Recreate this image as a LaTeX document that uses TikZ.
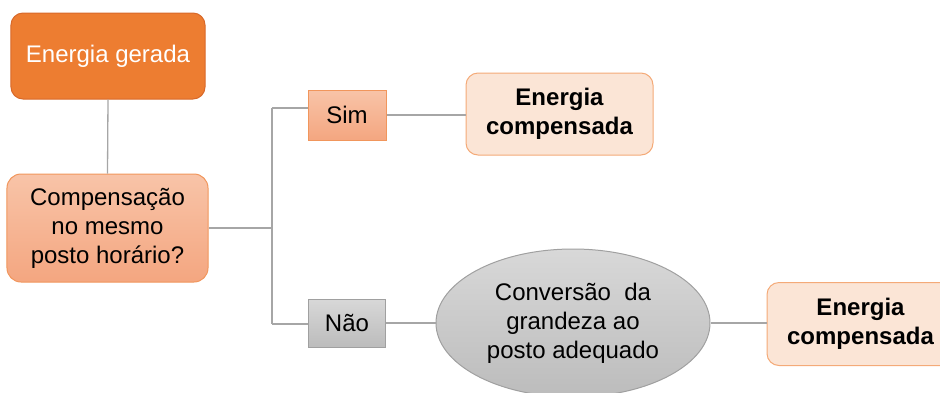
\documentclass[tikz,border=0pt]{standalone}
\usepackage{fontspec}
\setmainfont{Liberation Sans}
\usetikzlibrary{shapes.geometric,calc}
\definecolor{genfill}{HTML}{ED7D31}
\definecolor{gendraw}{HTML}{D8692A}
\definecolor{saltop}{RGB}{248,196,168}
\definecolor{salbot}{RGB}{244,166,128}
\definecolor{saldraw}{RGB}{241,150,92}
\definecolor{ecfill}{HTML}{FBE5D6}
\definecolor{ecdraw}{RGB}{244,170,120}
\definecolor{graytop}{RGB}{216,216,216}
\definecolor{graybot}{RGB}{188,188,188}
\definecolor{graydraw}{RGB}{160,160,160}
\definecolor{linecol}{RGB}{166,166,166}
\tikzset{
  txt/.style={font=\fontsize{24bp}{29bp}\selectfont, align=center, inner sep=0pt},
  genbox/.style={txt, rectangle, rounded corners=12bp, fill=genfill, draw=gendraw, line width=1bp, text=white},
  salbox/.style={txt, rectangle, top color=saltop, bottom color=salbot, draw=saldraw, line width=1bp},
  ecbox/.style={txt, rectangle, rounded corners=12bp, fill=ecfill, draw=ecdraw, line width=1bp, font=\fontsize{24bp}{29bp}\selectfont\bfseries},
  graybox/.style={txt, top color=graytop, bottom color=graybot, draw=graydraw, line width=1bp},
  conn/.style={draw=linecol, line width=1.3bp}
}
\begin{document}
\begin{tikzpicture}[x=1bp,y=-1bp]
\useasboundingbox (0,0) rectangle (940,392);
\node[genbox, minimum width=194bp, minimum height=86bp] (gen) at (108,56) {Energia gerada};
\node[salbox, rounded corners=14bp, minimum width=201bp, minimum height=108bp] (comp) at (107.5,228) {Compensação\\no mesmo\\posto horário?};
\node[salbox, minimum width=78bp, minimum height=50bp] (sim) at (347,115) {Sim};
\node[graybox, rectangle, minimum width=77bp, minimum height=48bp] (nao) at (347,323) {Não};
\node[ecbox, minimum width=187bp, minimum height=82bp] (ec1) at (559.5,114) {Energia\\compensada};
\node[graybox, ellipse, minimum width=274bp, minimum height=148bp] (conv) at (573,323) {Conversão\ \ da\\grandeza ao\\posto adequado};
\node[ecbox, minimum width=187bp, minimum height=83bp] (ec2) at (860.5,324) {Energia\\compensada};
\coordinate (j) at (272,228);
\coordinate (ja) at (272,108);
\coordinate (jb) at (272,324);
\draw[conn] (gen.south) -- (comp.north);
\draw[conn] (comp.east) -- (j);
\draw[conn] (ja) -- (jb);
\draw[conn] (ja) -- (sim.west |- ja);
\draw[conn] (jb) -- (nao.west |- jb);
\draw[conn] (sim.east) -- (sim.east -| ec1.west);
\draw[conn] (nao.east) -- (conv.west);
\draw[conn] (conv.east) -- (conv.east -| ec2.west);
\end{tikzpicture}
\end{document}
